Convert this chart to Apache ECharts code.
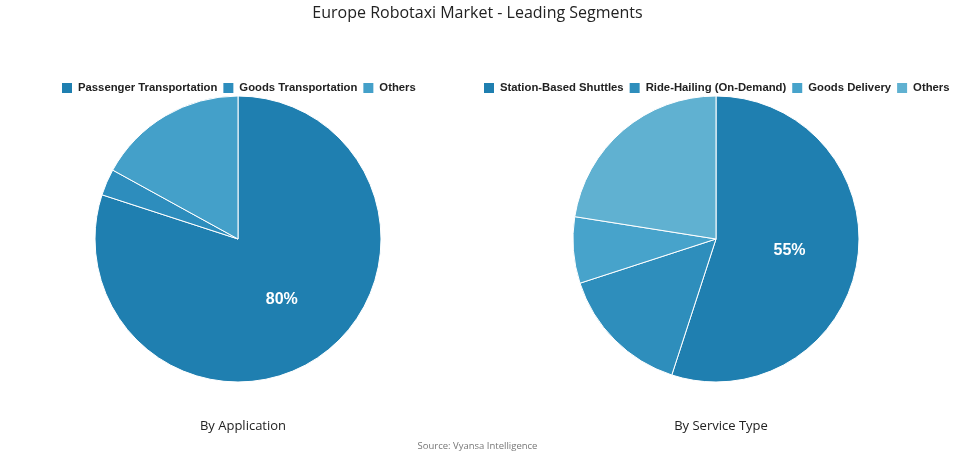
<!DOCTYPE html>
<html>
<head>
<meta charset="utf-8">
<script src="https://cdn.jsdelivr.net/npm/echarts@6/dist/echarts.min.js"></script>
<style>
  html, body { margin: 0; padding: 0; background: #fff; }
  #chart { width: 955px; height: 454px; }
</style>
</head>
<body>
<div id="chart"></div>
<script>
  var appNames = ['Passenger Transportation', 'Goods Transportation', 'Others']
  var appValues = [80, 3, 17]
  var appColors = ['#1f7fb0', '#2d8dbd', '#44a0c9']

  var serviceNames = ['Station-Based Shuttles', 'Ride-Hailing (On-Demand)', 'Goods Delivery', 'Others']
  var serviceValues = [55, 15, 7.5, 22.5]
  var serviceColors = ['#1f7fb0', '#2e8ebc', '#47a3cb', '#60b1d1']

  function buildData(names, values, colors) {
    return names.map(function (n, i) {
      return {
        name: n,
        value: values[i],
        itemStyle: { color: colors[i] },
        label: { show: i === 0 }
      }
    })
  }

  // legend items carry their own colour since both pies have an "Others"
  function legendData(names, colors) {
    return names.map(function (n, i) {
      return { name: n, itemStyle: { color: colors[i] } }
    })
  }

  function pieSeries(name, center, names, values, colors) {
    return {
      name: name,
      type: 'pie',
      radius: 143,
      center: center,
      startAngle: 90,
      clockwise: true,
      avoidLabelOverlap: false,
      itemStyle: { borderColor: '#ffffff', borderWidth: 1 },
      label: {
        position: 'inside',
        formatter: function (p) { return Math.round(p.percent) + '%' },
        color: '#ffffff',
        fontSize: 16,
        fontWeight: 'bold',
        fontFamily: 'Liberation Sans'
      },
      labelLine: { show: false },
      emphasis: { scale: false },
      data: buildData(names, values, colors)
    }
  }

  var legendText = { fontSize: 11.3, fontWeight: 'bold', color: '#222', fontFamily: 'Liberation Sans' }

  var chart = echarts.init(document.getElementById('chart'))
  var option = {
    animation: false,
    title: [
      {
        text: 'Europe Robotaxi Market - Leading Segments',
        left: 'center', top: 0,
        textStyle: { fontSize: 16, fontWeight: 'normal', color: '#222', fontFamily: 'Open Sans' }
      },
      {
        text: 'By Application',
        left: 238, top: 415, textAlign: 'center',
        textStyle: { fontSize: 13, fontWeight: 'normal', color: '#222', fontFamily: 'Open Sans' }
      },
      {
        text: 'By Service Type',
        left: 716, top: 415, textAlign: 'center',
        textStyle: { fontSize: 13, fontWeight: 'normal', color: '#222', fontFamily: 'Open Sans' }
      },
      {
        text: 'Source: Vyansa Intelligence',
        left: 'center', top: 436,
        textStyle: { fontSize: 9.5, fontWeight: 'normal', color: '#777', fontFamily: 'Open Sans' }
      }
    ],
    legend: [
      {
        data: legendData(appNames, appColors),
        left: 55, top: 76, width: 420,
        icon: 'rect', itemWidth: 12, itemHeight: 12, itemGap: 4,
        textStyle: legendText,
        selectedMode: false
      },
      {
        data: legendData(serviceNames, serviceColors),
        left: 477, top: 76, width: 475,
        icon: 'rect', itemWidth: 12, itemHeight: 12, itemGap: 4,
        textStyle: legendText,
        selectedMode: false
      }
    ],
    series: [
      pieSeries('By Application', [238, 239], appNames, appValues, appColors),
      pieSeries('By Service Type', [716, 239], serviceNames, serviceValues, serviceColors)
    ]
  }
  chart.setOption(option)
</script>
</body>
</html>
